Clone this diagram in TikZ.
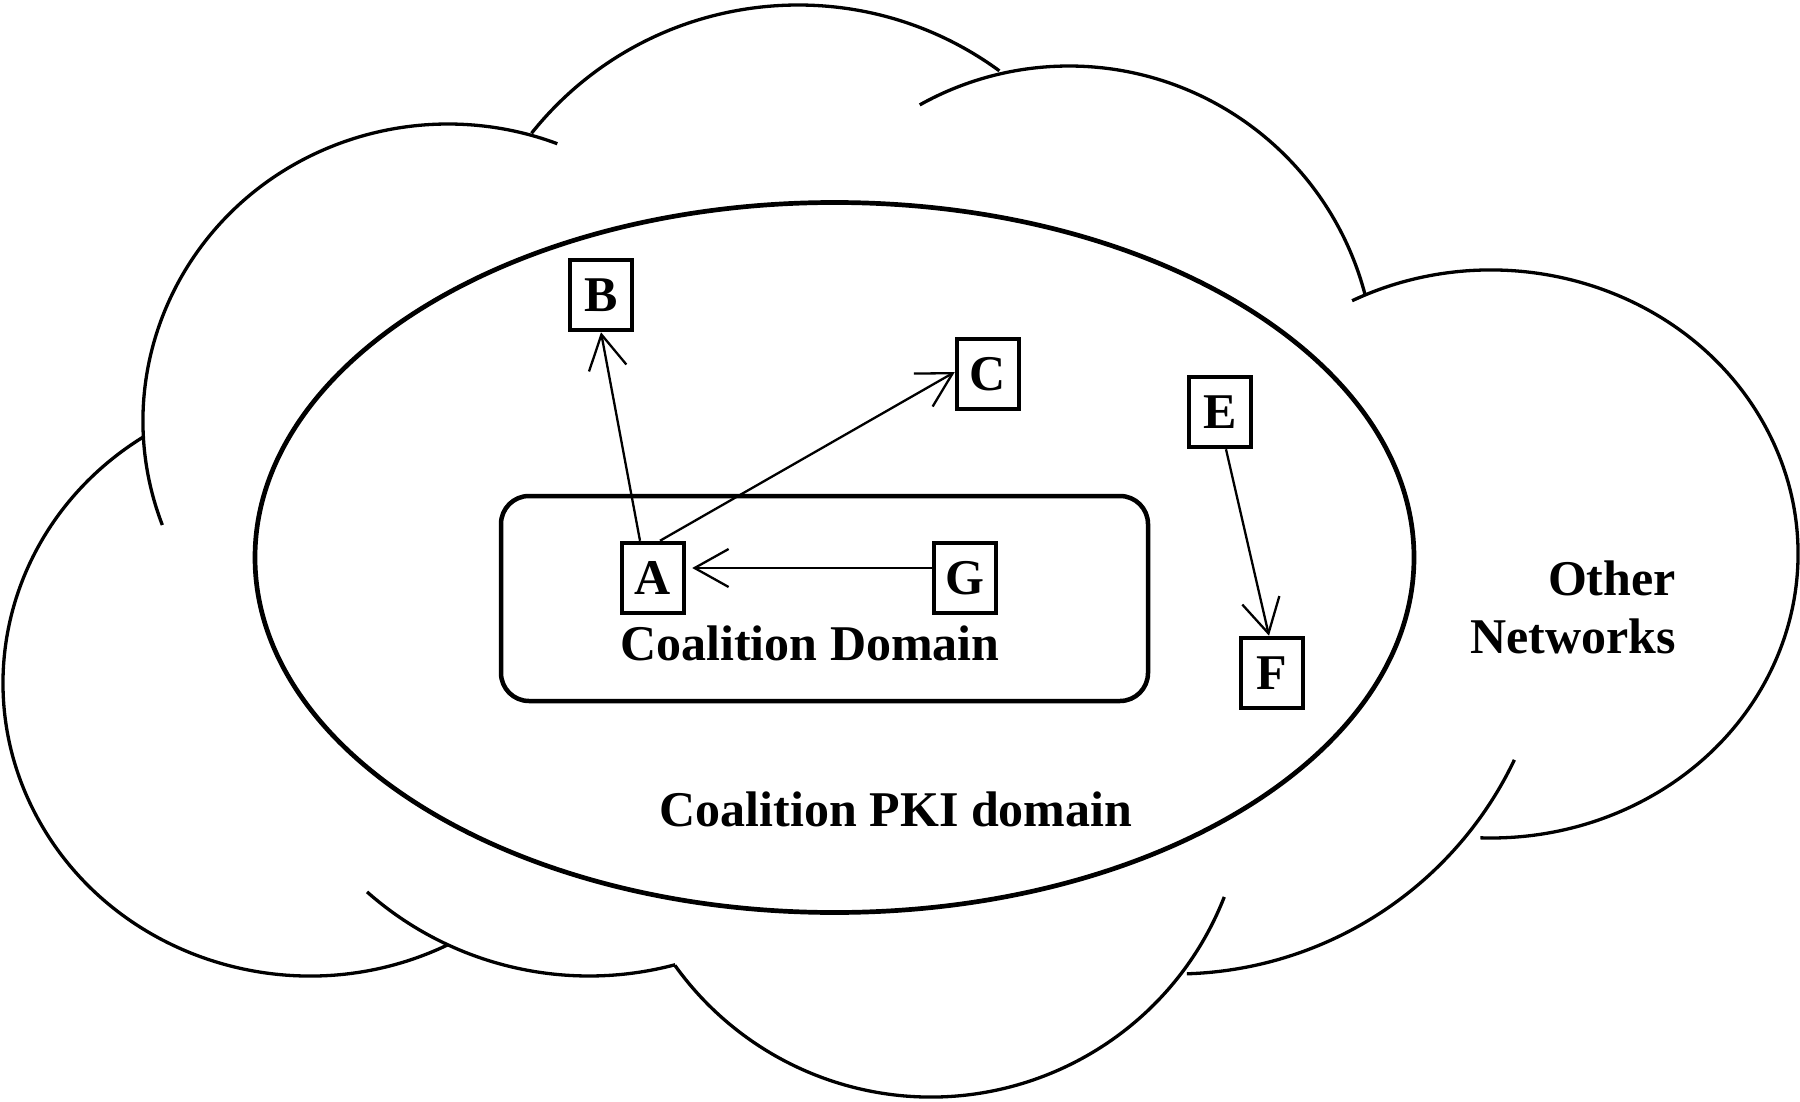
\documentclass[tikz,border=0pt]{standalone}
\usepackage{fontspec}
\setmainfont{Liberation Serif}
\usetikzlibrary{arrows.meta}

\begin{document}
\begin{tikzpicture}
[every node/.style={inner sep=0pt},
 party/.style={draw=black, line width=4.5pt, minimum width=62pt, minimum height=70pt, font=\bfseries\fontsize{50}{60}\selectfont},
 caption/.style={font=\bfseries\fontsize{50}{58}\selectfont},
 trust/.style={line width=2.3pt, -{Straight Barb[length=34pt, width=38pt]}},
 bump/.style={line width=3.3pt}]
\useasboundingbox (0pt, 0pt) rectangle (1800pt, -1102pt);
% cloud of other networks
\draw [bump] (448pt, -421pt) ++(-159.5:305pt and 297pt) arc [start angle=-159.5, end angle=-291, x radius=305pt, y radius=297pt];
\draw [bump] (798pt, -346pt) ++(-218.6:341pt) arc [start angle=-218.6, end angle=-306.2, radius=341pt];
\draw [bump] (1069pt, -372pt) ++(-240.8:306pt) arc [start angle=-240.8, end angle=-345.2, radius=306pt];
\draw [bump] (1491pt, -554pt) ++(116.9:307pt and 284pt) arc [start angle=116.9, end angle=-92, x radius=307pt, y radius=284pt];
\draw [bump] (1175pt, -598pt) ++(-25.5:376pt) arc [start angle=-25.5, end angle=-88.2, radius=376pt];
\draw [bump] (931pt, -782pt) ++(-21.4:315pt) arc [start angle=-21.4, end angle=-144.4, radius=315pt];
\draw [bump] (589pt, -641pt) ++(-75.1:335pt) arc [start angle=-75.1, end angle=-131.5, radius=335pt];
\draw [bump] (310pt, -683pt) ++(-63.2:307pt and 293pt) arc [start angle=-63.2, end angle=-237.1, x radius=307pt, y radius=293pt];
% PKI domain and coalition domain
\draw [line width=4.7pt] (834.5pt, -557.5pt) ellipse [x radius=579.5pt, y radius=355pt];
\draw [line width=4.5pt, rounded corners=28pt] (501pt, -496pt) rectangle (1148pt, -701pt);
\node (B) [party] at (601pt, -295pt) {B};
\node (C) [party] at (988pt, -374pt) {C};
\node (A) [party] at (653pt, -578pt) {A};
\node (G) [party] at (965pt, -578pt) {G};
\node (E) [party] at (1220pt, -412pt) {E};
\node (F) [party] at (1272pt, -673pt) {F};
\draw [trust] ([xshift=-13pt]A.north) -- (B.south);
\draw [trust] ([xshift=7pt]A.north) -- ([yshift=2pt]C.west);
\draw [trust] ([yshift=10pt]G.west) -- ([yshift=10pt, xshift=6pt]A.east);
\draw [trust] ([xshift=6pt]E.south) -- ([xshift=-3pt]F.north);
\node (domain) [caption, anchor=base] at (810pt, -660pt) {Coalition Domain};
\node (pki) [caption, anchor=base] at (896pt, -826pt) {Coalition PKI domain};
\node (others) [caption, align=right, anchor=base east] at (1676pt, -653pt) {Other\\Networks};
\end{tikzpicture}
\end{document}
